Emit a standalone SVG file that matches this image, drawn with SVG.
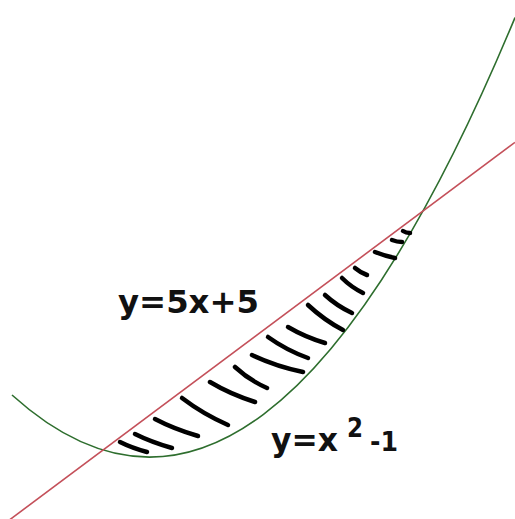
<svg xmlns="http://www.w3.org/2000/svg" width="515" height="519" viewBox="0 0 515 519">
  <style>
    .curve { fill: none; stroke-width: 1.6; }
    .parabola { stroke: #2e6e2e; }
    .line { stroke: #c4505a; }
    .hatch path { fill: none; stroke: #000; stroke-width: 4.5; stroke-linecap: round; stroke-linejoin: round; }
    .lbl { font-family: "DejaVu Sans", "Liberation Sans", sans-serif; font-weight: bold; fill: #111; }
  </style>
  <rect width="515" height="519" fill="#fff"/>
  <g id="connectors">
    <path id="parabola" class="curve parabola" d="M12,395 Q263.5,622.3 515,17.6"/>
    <path id="line" class="curve line" d="M0,527 L515,142.3"/>
  </g>
  <g id="hatching" class="hatch">
    <path d="M120,442 Q132,448 147,452"/>
    <path d="M135,434 Q151,442 172,448"/>
    <path d="M155,419 Q174,429 198,436"/>
    <path d="M182,398 Q203,414 228,425"/>
    <path d="M210,382 Q230,394 255,402"/>
    <path d="M235,367 Q249,380 267,388"/>
    <path d="M252,355 Q275,366 303,372"/>
    <path d="M268,337 Q286,350 308,358"/>
    <path d="M288,327 Q305,337 325,343"/>
    <path d="M308,305 Q324,320 343,330"/>
    <path d="M325,295 Q337,306 352,313"/>
    <path d="M342,278 Q351,287 363,293"/>
    <path d="M355,268 Q361,273 367,275"/>
    <path d="M375,252 Q385,256 395,258"/>
    <path d="M392,240 Q397,242 402,242"/>
    <path d="M403,231 Q406,233 410,233"/>
  </g>
  <g id="label-line">
    <text class="lbl" x="118" y="313" font-size="32" textLength="141" lengthAdjust="spacingAndGlyphs">y=5x+5</text>
  </g>
  <g id="label-parabola">
    <text class="lbl" x="271" y="451" font-size="32" textLength="67" lengthAdjust="spacingAndGlyphs">y=x</text>
    <text class="lbl" x="347" y="437" font-size="26" textLength="16" lengthAdjust="spacingAndGlyphs">2</text>
    <text class="lbl" x="370" y="451" font-size="26" textLength="28" lengthAdjust="spacingAndGlyphs">-1</text>
  </g>
</svg>
